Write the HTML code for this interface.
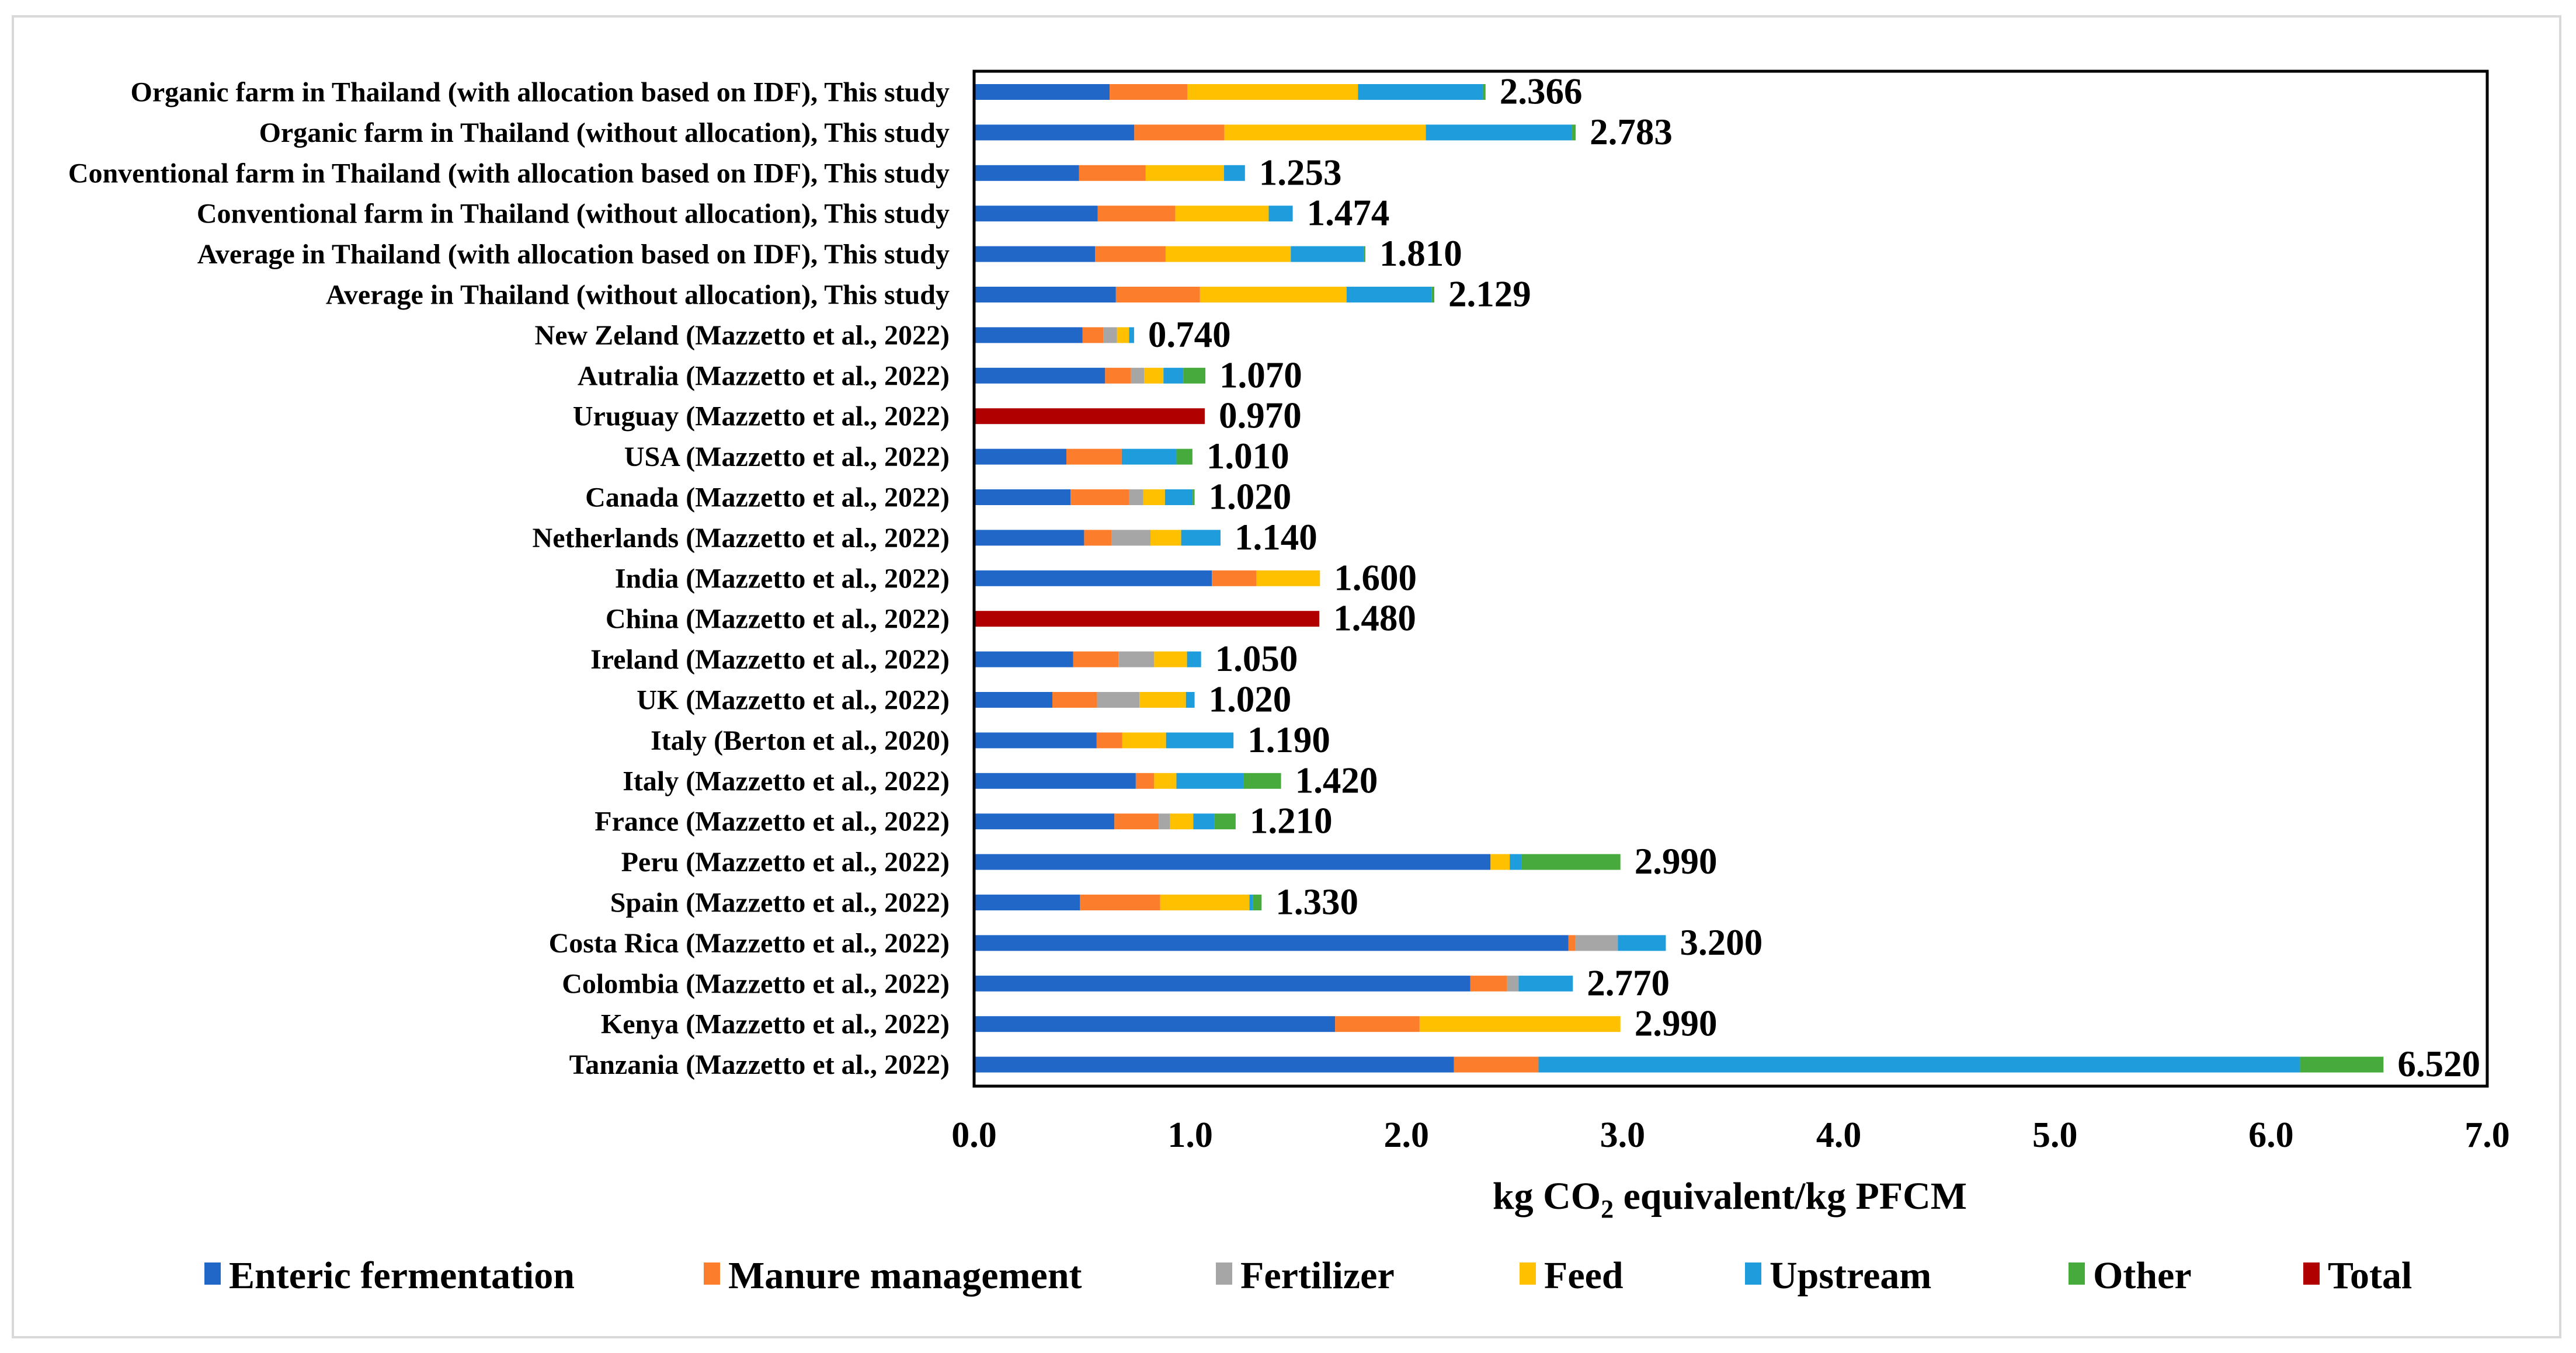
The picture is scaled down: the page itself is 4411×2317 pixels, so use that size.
<!DOCTYPE html>
<html><head><meta charset="utf-8"><style>
html,body{margin:0;padding:0;background:#fff}
svg{display:block}
text{font-family:"Liberation Serif","Times New Roman",serif;font-weight:bold;fill:#000}
</style></head><body>
<svg id="chart" xmlns="http://www.w3.org/2000/svg" width="4411" height="2317" viewBox="0 0 4411 2317">
<rect x="22" y="28" width="4362" height="2262" fill="#fff" stroke="#d9d9d9" stroke-width="4"/>
<g id="bars"></g>
<rect x="1668" y="122" width="2591" height="1738" fill="none" stroke="#000" stroke-width="5"/>
<g id="ticks"></g>
<text x="2962" y="2070" font-size="66" text-anchor="middle">kg CO<tspan font-size="44" dy="15">2</tspan><tspan dy="-15"> equivalent/kg PFCM</tspan></text>
<g id="legend"></g>
</svg>
<script>
const categories = [
"Organic farm in Thailand (with allocation based on IDF), This study",
"Organic farm in Thailand (without allocation), This study",
"Conventional farm in Thailand (with allocation based on IDF), This study",
"Conventional farm in Thailand (without allocation), This study",
"Average in Thailand (with allocation based on IDF), This study",
"Average in Thailand (without allocation), This study",
"New Zeland (Mazzetto et al., 2022)",
"Autralia (Mazzetto et al., 2022)",
"Uruguay (Mazzetto et al., 2022)",
"USA (Mazzetto et al., 2022)",
"Canada (Mazzetto et al., 2022)",
"Netherlands (Mazzetto et al., 2022)",
"India (Mazzetto et al., 2022)",
"China (Mazzetto et al., 2022)",
"Ireland (Mazzetto et al., 2022)",
"UK (Mazzetto et al., 2022)",
"Italy (Berton et al., 2020)",
"Italy (Mazzetto et al., 2022)",
"France (Mazzetto et al., 2022)",
"Peru (Mazzetto et al., 2022)",
"Spain (Mazzetto et al., 2022)",
"Costa Rica (Mazzetto et al., 2022)",
"Colombia (Mazzetto et al., 2022)",
"Kenya (Mazzetto et al., 2022)",
"Tanzania (Mazzetto et al., 2022)"];
const enteric = [0.627,0.741,0.485,0.572,0.560,0.656,0.502,0.606,0,0.427,0.446,0.509,1.100,0,0.458,0.362,0.567,0.748,0.649,2.389,0.490,2.749,2.295,1.670,2.220];
const manure  = [0.360,0.417,0.309,0.359,0.326,0.389,0.096,0.120,0,0.256,0.271,0.126,0.206,0,0.210,0.207,0.118,0.085,0.205,0,0.371,0.031,0.171,0.391,0.391];
const fertilizer = [0,0,0,0,0,0,0.063,0.061,0,0,0.065,0.181,0,0,0.165,0.196,0,0,0.053,0,0,0.198,0.053,0,0];
const feed    = [0.789,0.932,0.362,0.432,0.579,0.678,0.056,0.089,0,0,0.101,0.142,0.294,0,0.152,0.215,0.203,0.103,0.107,0.089,0.413,0,0,0.929,0];
const upstream= [0.577,0.675,0.097,0.111,0.338,0.393,0.023,0.092,0,0.253,0.128,0.182,0,0,0.065,0.040,0.312,0.312,0.098,0.056,0.015,0.222,0.251,0,3.523];
const other   = [0.013,0.018,0,0,0.007,0.013,0,0.102,0,0.074,0.009,0,0,0,0,0,0,0.172,0.098,0.456,0.041,0,0,0,0.386];
const total   = [0,0,0,0,0,0,0,0,1.067,0,0,0,0,1.597,0,0,0,0,0,0,0,0,0,0,0];
const valueLabels = ["2.366","2.783","1.253","1.474","1.810","2.129","0.740","1.070","0.970","1.010","1.020","1.140","1.600","1.480","1.050","1.020","1.190","1.420","1.210","2.990","1.330","3.200","2.770","2.990","6.520"];
const tickValues = [0,1,2,3,4,5,6,7];
const tickLabels = ["0.0","1.0","2.0","3.0","4.0","5.0","6.0","7.0"];
const seriesNames = ["Enteric fermentation","Manure management","Fertilizer","Feed","Upstream","Other","Total"];

const NS="http://www.w3.org/2000/svg";
const colors=["#2167c8","#fc7d2b","#a6a6a6","#ffc000","#1e9cdc","#46ab3c","#b00000"];
const series=[enteric,manure,fertilizer,feed,upstream,other,total];
const x0=1668, xUnit=(4259-1668)/7;
const X=v=>x0+v*xUnit;
const Y=i=>157.5+i*69.4;
const bh=27;
function mk(tag,attrs,parent){const e=document.createElementNS(NS,tag);for(const k in attrs)e.setAttribute(k,attrs[k]);parent.appendChild(e);return e;}
const gB=document.getElementById('bars');
categories.forEach((c,i)=>{
  const t=mk('text',{x:1626,y:Y(i)+16,'font-size':48,'text-anchor':'end'},gB);
  t.textContent=c;
  
  
  let cum=0;
  series.forEach((s,k)=>{
    const v=s[i]; if(!v) return;
    const r=mk('rect',{x:X(cum),y:Y(i)-bh/2,width:X(cum+v)-X(cum),height:bh,fill:colors[k]},gB);
    
    
    cum+=v;
  });
  const vl=mk('text',{x:X(cum)+24,y:Y(i)+20,'font-size':63},gB);
  vl.textContent=valueLabels[i];
  
  
});
const gT=document.getElementById('ticks');
tickValues.forEach((v,i)=>{
  const t=mk('text',{x:X(v),y:1964,'font-size':62,'text-anchor':'middle'},gT);
  t.textContent=tickLabels[i];
  
  
});
const gL=document.getElementById('legend');
const legX=[350,1205,2082,2602,2988,3542,3944];
seriesNames.forEach((n,k)=>{
  const g=mk('g',{},gL);
  
  
  mk('rect',{x:legX[k],y:2162,width:28,height:38,fill:colors[k]},g);
  const t=mk('text',{x:legX[k]+42,y:2206,'font-size':66},g);
  t.textContent=n;
});
</script>
</body></html>
